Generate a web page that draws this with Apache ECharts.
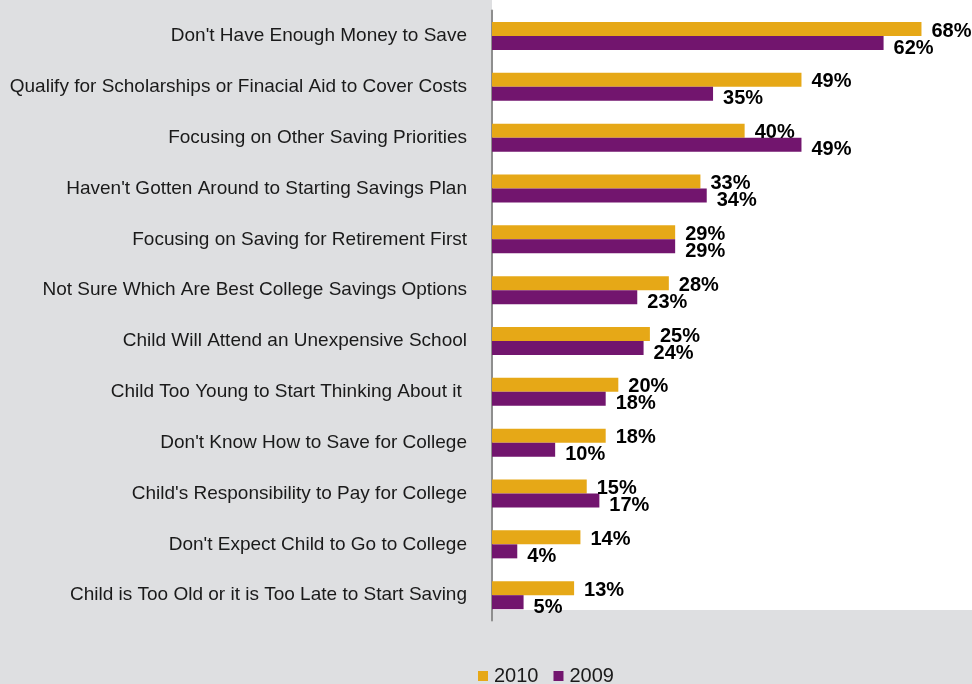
<!DOCTYPE html>
<html>
<head>
<meta charset="utf-8">
<style>
  html, body { margin: 0; padding: 0; background: #dedfe1; }
  #chart { width: 972px; height: 684px; }
</style>
<script src="https://cdn.jsdelivr.net/npm/echarts@6/dist/echarts.min.js"></script>
</head>
<body>
<div id="chart"></div>
<script>
// Reasons for not saving for college, listed top to bottom
const categories = [
  "Don't Have Enough Money to Save",
  "Qualify for Scholarships or Finacial Aid to Cover Costs",
  "Focusing on Other Saving Priorities",
  "Haven't Gotten Around to Starting Savings Plan",
  "Focusing on Saving for Retirement First",
  "Not Sure Which Are Best College Savings Options",
  "Child Will Attend an Unexpensive School",
  "Child Too Young to Start Thinking About it ",
  "Don't Know How to Save for College",
  "Child's Responsibility to Pay for College",
  "Don't Expect Child to Go to College",
  "Child is Too Old or it is Too Late to Start Saving"
];
const values2010 = [68, 49, 40, 33, 29, 28, 25, 20, 18, 15, 14, 13];
const values2009 = [62, 35, 49, 34, 29, 23, 24, 18, 10, 17, 4, 5];
const seriesNames = ['2010', '2009'];

const FONT = '"Liberation Sans", Arial, sans-serif';
const chart = echarts.init(document.getElementById('chart'), null, { renderer: 'canvas' });

function valueLabel(dy) {
  return {
    show: true,
    position: 'right',
    distance: 10,
    offset: [0, dy],
    formatter: '{c}%',
    color: '#000',
    fontFamily: FONT,
    fontWeight: 'bold',
    fontSize: 20
  };
}

chart.setOption({
  backgroundColor: '#dedfe1',
  animation: false,
  graphic: [{
    type: 'rect',
    z: -10,
    shape: { x: 492, y: 0, width: 480, height: 610 },
    style: { fill: '#ffffff' }
  }],
  grid: { left: 492, right: 0, top: 10.6, height: 610, containLabel: false },
  xAxis: {
    type: 'value',
    min: 0,
    max: 76,
    show: false
  },
  yAxis: {
    type: 'category',
    data: categories,
    inverse: true,
    axisLine: { show: true, lineStyle: { color: '#8e8e8e', width: 2 } },
    axisTick: { show: false },
    splitLine: { show: false },
    axisLabel: {
      margin: 25,
      color: '#1a1a1a',
      fontFamily: FONT,
      fontSize: 19
    }
  },
  legend: {
    data: seriesNames,
    left: 473,
    top: 661,
    icon: 'rect',
    itemWidth: 10,
    itemHeight: 10,
    itemGap: 15,
    textStyle: { color: '#1a1a1a', fontFamily: FONT, fontSize: 20, padding: [0, 0, 0, 1] }
  },
  series: [
    {
      name: seriesNames[0],
      type: 'bar',
      data: values2010,
      barWidth: 14,
      barGap: '0%',
      itemStyle: { color: '#e6a817' },
      label: valueLabel(2)
    },
    {
      name: seriesNames[1],
      type: 'bar',
      data: values2009,
      barWidth: 14,
      barGap: '0%',
      itemStyle: { color: '#72156e' },
      label: valueLabel(5)
    }
  ]
});
</script>
</body>
</html>
